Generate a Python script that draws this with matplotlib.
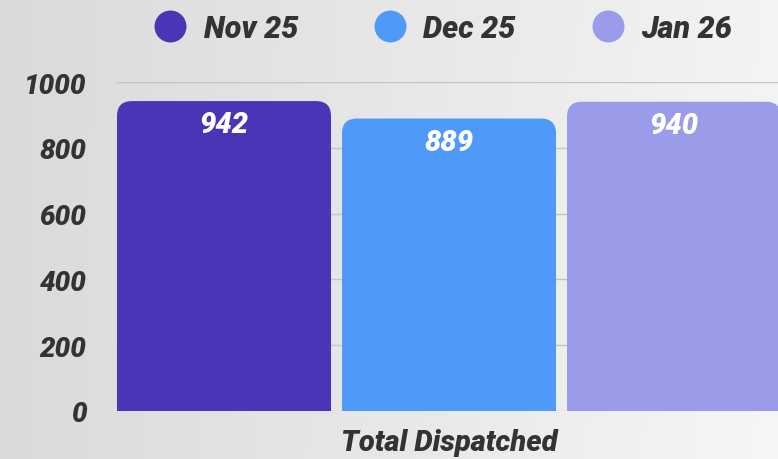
import numpy as np
import matplotlib
matplotlib.use("Agg")
import matplotlib.pyplot as plt
from matplotlib.patches import FancyBboxPatch
from matplotlib.lines import Line2D

# ----------------------------- DATA -----------------------------
category = "Total Dispatched"
months = ["Nov 25", "Dec 25", "Jan 26"]
values = [942, 889, 940]
colors = ["#4836b6", "#4f9af9", "#9b9ce9"]
yticks = [0, 200, 400, 600, 800, 1000]

FONT = "Roboto"
TXT = "#333333"

fig = plt.figure(figsize=(7.78, 4.6), dpi=100)

# background gradient (darker on the left, lighter to the right)
bg = fig.add_axes([0, 0, 1, 1], zorder=-10)
gx = np.linspace(0, 1, 256)
gy = np.linspace(0, 1, 64)
X, Y = np.meshgrid(gx, gy)
shade = 0.855 + 0.10 * X + 0.01 * X * (1 - Y)
bg.imshow(np.dstack([shade] * 3), extent=[0, 1, 0, 1], aspect="auto", origin="lower")
bg.axis("off")

ax = fig.add_axes([117 / 778, (460 - 412) / 460, 1 - 117 / 778, (412 - 83) / 460])
ax.patch.set_alpha(0)

w = 214 / 664
step = 225 / 664
ax.set_xlim(-0.5, 0.5 - 3 / 664)
ax.set_ylim(0, 1000)

# rounding radius in axes units
rx = 15 / 664
ry = 15 / 0.329
for i, (v, c) in enumerate(zip(values, colors)):
    x0 = (i - 1) * step - w / 2
    p = FancyBboxPatch((x0, -200), w, v + 200,
                       boxstyle="round,pad=0,rounding_size=%f" % rx,
                       mutation_aspect=ry / rx, fc=c, ec="none", zorder=3)
    ax.add_patch(p)
    ax.text((i - 1) * step, v - 70, str(v), ha="center", va="center",
            color="white", fontsize=21, fontweight="heavy", style="italic",
            family=FONT, zorder=4)

ax.set_yticks(yticks)
ax.set_yticklabels([str(t) for t in yticks], fontsize=20, fontweight="heavy",
                   style="italic", family=FONT, color=TXT)
ax.set_xticks([0])
ax.set_xticklabels([category], fontsize=21, fontweight="heavy",
                   style="italic", family=FONT, color=TXT)
ax.tick_params(axis="both", length=0)
ax.tick_params(axis="y", pad=22)
ax.tick_params(axis="x", pad=12)
ax.grid(axis="y", color="#c4c4c4", lw=1, zorder=0)
ax.set_axisbelow(True)
for s in ax.spines.values():
    s.set_visible(False)

handles = [Line2D([], [], ls="none", marker="o", ms=23, mfc=c, mec="none")
           for c in colors]
fig.legend(handles, months, loc="upper center", bbox_to_anchor=(0.57, 1.03),
           ncol=3, frameon=False, handlelength=1.0, handletextpad=0.6,
           columnspacing=2.5,
           prop={"family": FONT, "size": 22, "weight": "heavy", "style": "italic"},
           labelcolor=TXT)

fig.savefig("out.png", dpi=100)
